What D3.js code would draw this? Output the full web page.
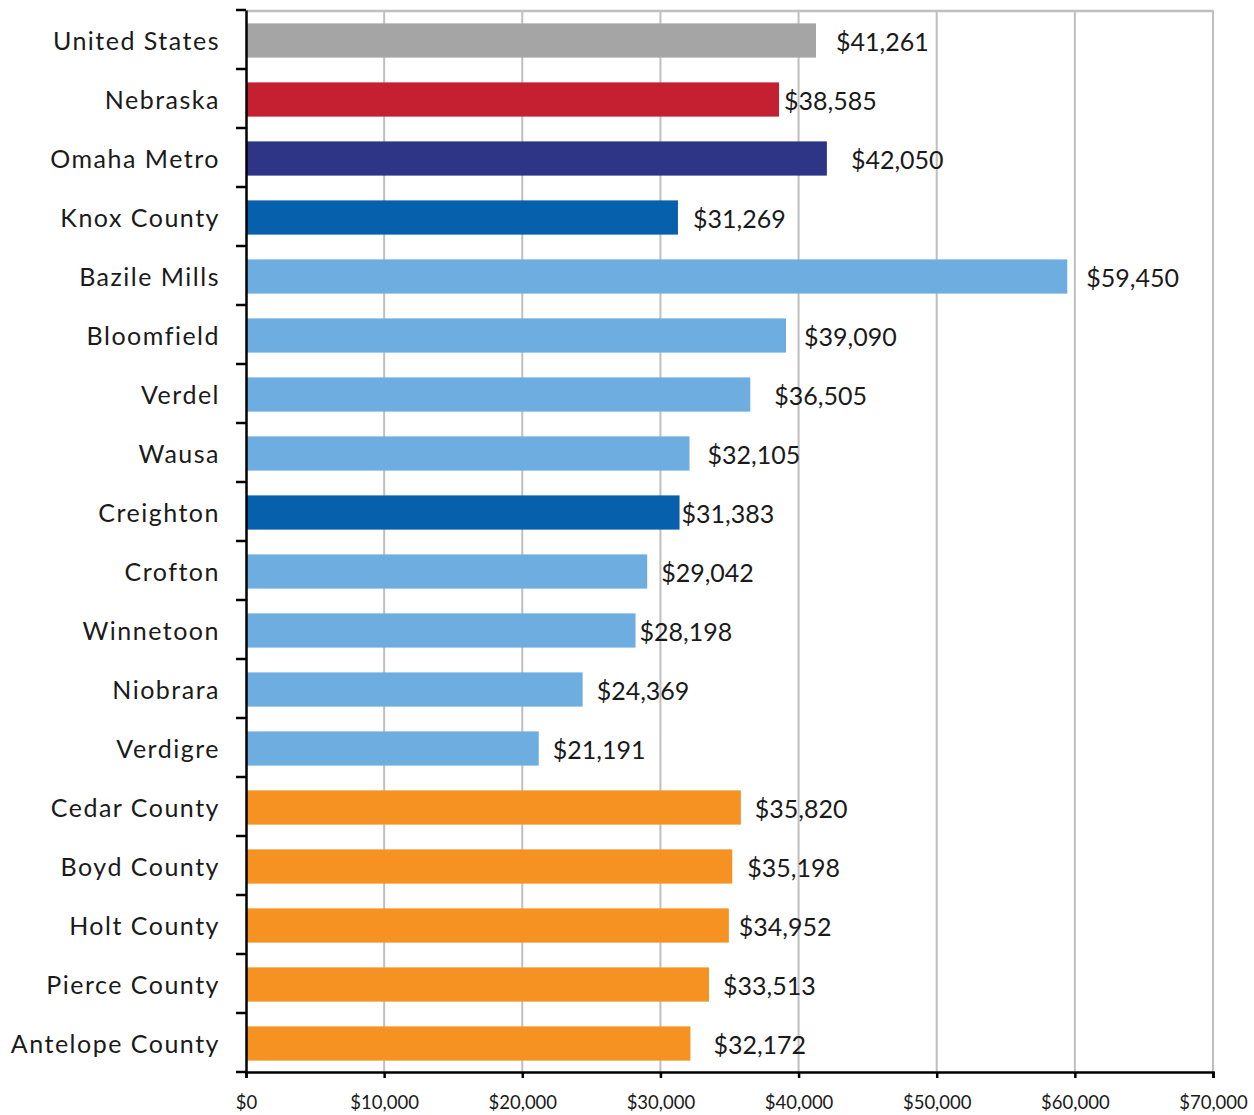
<!DOCTYPE html>
<html><head><meta charset="utf-8">
<script src="https://cdn.jsdelivr.net/npm/d3@7"></script>
<style>body{margin:0;background:#fff}svg{display:block}</style>
</head><body>
<script>
const categories = ["United States","Nebraska","Omaha Metro","Knox County","Bazile Mills","Bloomfield","Verdel","Wausa","Creighton","Crofton","Winnetoon","Niobrara","Verdigre","Cedar County","Boyd County","Holt County","Pierce County","Antelope County"];
const values = [41261,38585,42050,31269,59450,39090,36505,32105,31383,29042,28198,24369,21191,35820,35198,34952,33513,32172];
const groups = ["us","ne","omaha","knox","town","town","town","town","knox","town","town","town","town","county","county","county","county","county"];
const labelDx = [20,5,24,15,19,18,24,18,2,14,4,14,14,14,15,10,14,23];
const xTicks = [0,10000,20000,30000,40000,50000,60000,70000];
const colors = {us:"#a5a5a5",ne:"#c42032",omaha:"#2e3587",knox:"#0760ab",town:"#6eade0",county:"#f59222"};

const W=1254,H=1115;
const m={left:246,right:41,top:10,bottom:43};
const svg=d3.select("body").append("svg").attr("width",W).attr("height",H);
const x=d3.scaleLinear().domain([0,70000]).range([m.left,W-m.right]);
const y=d3.scaleBand().domain(categories).range([m.top,H-m.bottom]).paddingInner(0.42).paddingOuter(0.21);
const fmt=d3.format("$,");

// gridlines
svg.append("g").selectAll("line").data(xTicks.slice(1)).join("line")
  .attr("x1",d=>x(d)).attr("x2",d=>x(d)).attr("y1",m.top).attr("y2",H-m.bottom)
  .attr("stroke","#bfbfbf").attr("stroke-width",2);
svg.append("line").attr("x1",m.left).attr("x2",W-m.right).attr("y1",m.top+1).attr("y2",m.top+1)
  .attr("stroke","#bfbfbf").attr("stroke-width",2.5);

// bars
svg.append("g").selectAll("rect").data(categories).join("rect")
  .attr("x",x(0)).attr("y",(d,i)=>y(d)+1).attr("width",(d,i)=>x(values[i])-x(0))
  .attr("height",y.bandwidth()).attr("fill",(d,i)=>colors[groups[i]]);

// value labels
svg.append("g").selectAll("text").data(categories).join("text")
  .attr("x",(d,i)=>x(values[i])+labelDx[i]).attr("y",(d,i)=>y(d)+1+y.bandwidth()/2+4)
  .attr("dominant-baseline","middle")
  .attr("font-family","Lato, sans-serif").attr("font-size",25).attr("fill","#1a1a1a")
  .text((d,i)=>fmt(values[i]));

// y axis
const ya=d3.axisLeft(y).tickSize(0).tickPadding(26);
const yg=svg.append("g").attr("transform",`translate(${m.left},0)`).call(ya);
yg.select(".domain").attr("stroke","#000").attr("stroke-width",2.5);
yg.selectAll("text").attr("font-family","Lato, sans-serif").attr("font-size",25)
  .attr("letter-spacing","1.5px").attr("dy","0.42em").attr("fill","#1a1a1a");
// band boundary ticks
const step=(H-m.bottom-m.top)/categories.length;
svg.append("g").selectAll("line").data(d3.range(categories.length+1)).join("line")
  .attr("x1",m.left-10).attr("x2",m.left).attr("y1",i=>m.top+i*step).attr("y2",i=>m.top+i*step)
  .attr("stroke","#000").attr("stroke-width",2.5);

// x axis
const xa=d3.axisBottom(x).tickValues(xTicks).tickFormat(fmt).tickSize(6).tickPadding(18);
const xg=svg.append("g").attr("transform",`translate(0,${H-m.bottom})`).call(xa);
xg.select(".domain").attr("stroke","#000").attr("stroke-width",2.5);
xg.selectAll(".tick line").attr("stroke","#000").attr("stroke-width",2.5);
xg.selectAll("text").attr("font-family","Lato, sans-serif").attr("font-size",18.5).attr("fill","#1a1a1a");
</script>
</body></html>
